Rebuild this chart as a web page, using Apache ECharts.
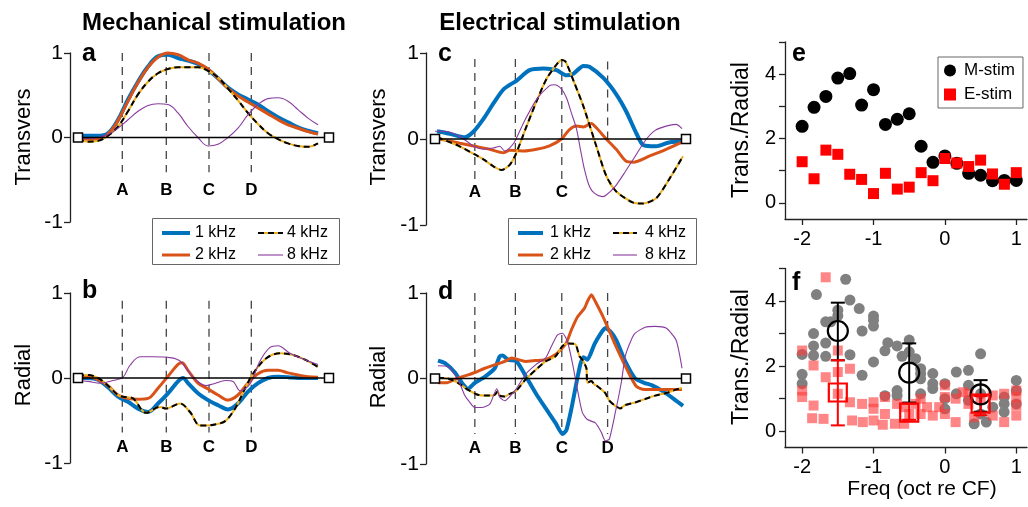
<!DOCTYPE html>
<html><head><meta charset="utf-8">
<script src="https://cdn.jsdelivr.net/npm/echarts@6/dist/echarts.min.js"></script>
<style>html,body{margin:0;padding:0;background:#fff}#c{width:1028px;height:507px}</style>
</head><body><div id="c"></div><script>
// ---------- data ----------
const legendNames = ['1 kHz', '2 kHz', '4 kHz', '8 kHz'];
// panel a: mechanical, transverse
const mechT_1k = [[0,0.02],[10,0.02],[20,0.02],[30,0.05],[40,0.21],[50,0.45],[60,0.66],[70,0.84],[80,0.96],[90,0.98],[100,0.94],[110,0.91],[120,0.87],[130,0.8],[140,0.7],[150,0.59],[160,0.51],[170,0.45],[180,0.39],[190,0.31],[200,0.24],[210,0.18],[220,0.12],[230,0.08],[240,0.05]];
const mechT_2k = [[0,-0.02],[10,-0.02],[20,-0.02],[30,0.04],[40,0.2],[50,0.43],[60,0.65],[70,0.83],[80,0.95],[90,1.0],[100,0.98],[110,0.92],[120,0.88],[130,0.81],[140,0.7],[150,0.58],[160,0.49],[170,0.42],[180,0.35],[190,0.28],[200,0.21],[210,0.15],[220,0.11],[230,0.07],[240,0.04]];
const mechT_4k = [[0,-0.02],[10,-0.05],[20,-0.04],[30,0.02],[40,0.13],[50,0.31],[60,0.51],[70,0.66],[80,0.76],[90,0.81],[100,0.83],[110,0.83],[120,0.83],[130,0.79],[140,0.71],[150,0.58],[160,0.44],[170,0.29],[180,0.16],[190,0.05],[200,-0.02],[210,-0.07],[220,-0.1],[230,-0.11],[240,-0.07]];
const mechT_8k = [[0,-0.01],[10,-0.01],[20,0],[30,0.035],[40,0.11],[50,0.21],[60,0.31],[70,0.38],[80,0.4],[90,0.39],[100,0.29],[110,0.13],[120,0],[130,-0.1],[140,-0.08],[150,0],[160,0.11],[170,0.27],[180,0.39],[190,0.46],[200,0.47],[210,0.43],[220,0.33],[230,0.23],[240,0.15]];
// panel b: mechanical, radial
const mechR_1k = [[0,0],[10,0],[20,-0.02],[30,-0.11],[40,-0.22],[50,-0.28],[60,-0.36],[70,-0.4],[80,-0.3],[90,-0.18],[100,-0.04],[105,0],[110,-0.06],[120,-0.18],[130,-0.26],[140,-0.32],[150,-0.37],[160,-0.3],[170,-0.16],[180,-0.06],[190,0],[200,0.015],[210,0.01],[220,0],[230,0],[240,0]];
const mechR_2k = [[0,0],[10,0.02],[20,-0.02],[30,-0.09],[40,-0.2],[50,-0.24],[60,-0.25],[70,-0.24],[80,-0.12],[90,0.02],[100,0.16],[104,0.18],[110,0.09],[120,-0.06],[130,-0.13],[140,-0.2],[150,-0.26],[160,-0.2],[170,-0.06],[180,0.05],[190,0.09],[200,0.09],[210,0.06],[220,0.035],[230,0.015],[240,0.01]];
const mechR_4k = [[0,0.02],[10,0.035],[20,0],[30,-0.09],[40,-0.2],[45,-0.22],[55,-0.24],[68,-0.41],[82,-0.34],[88,-0.36],[102,-0.3],[112,-0.4],[122,-0.56],[128,-0.56],[140,-0.54],[148,-0.5],[158,-0.34],[168,-0.1],[175,0.05],[188,0.23],[202,0.29],[215,0.27],[228,0.21],[240,0.13]];
const mechR_8k = [[0,-0.03],[10,-0.04],[22,-0.06],[35,-0.03],[45,0.01],[52,0.15],[62,0.25],[75,0.25],[92,0.24],[102,0.2],[115,0.01],[128,-0.09],[135,-0.07],[148,-0.03],[155,-0.04],[162,-0.15],[172,-0.07],[182,0.2],[192,0.36],[200,0.38],[212,0.29],[228,0.21],[240,0.16]];
// panel c: electrical, transverse
const elecT_1k = [[2,0.09],[15,0.06],[30,0.02],[39,0.09],[49,0.24],[59,0.42],[69,0.58],[82,0.68],[95,0.8],[109,0.82],[122,0.8],[132,0.74],[139,0.76],[149,0.85],[155,0.84],[169,0.71],[182,0.52],[192,0.32],[202,0.07],[209,-0.07],[222,-0.085],[235,-0.04],[249,-0.03]];
const elecT_2k = [[5,0],[25,-0.05],[40,-0.085],[55,-0.12],[69,-0.16],[75,-0.13],[89,-0.14],[102,-0.12],[115,-0.08],[127,0],[135,0.11],[142,0.15],[149,0.14],[157,0.18],[162,0.13],[172,0],[182,-0.12],[192,-0.26],[199,-0.27],[215,-0.2],[232,-0.12],[249,-0.03]];
const elecT_4k = [[2,0.02],[22,-0.07],[40,-0.18],[49,-0.24],[59,-0.32],[67,-0.36],[75,-0.3],[81,-0.18],[91,0.12],[102,0.44],[112,0.7],[121,0.85],[127,0.92],[131,0.9],[140,0.65],[149,0.38],[162,-0.085],[172,-0.43],[182,-0.61],[199,-0.74],[209,-0.75],[222,-0.69],[235,-0.47],[249,-0.2]];
const elecT_8k = [[0,0.09],[10,0.09],[25,0.03],[39,-0.085],[49,-0.12],[60,-0.1],[65,-0.085],[70,-0.14],[79,-0.05],[89,0.19],[102,0.46],[115,0.62],[120,0.63],[127,0.58],[132,0.48],[137,0.3],[142,0.12],[146,-0.12],[150,-0.35],[155,-0.55],[160,-0.63],[168,-0.67],[171,-0.66],[181,-0.55],[191,-0.38],[201,-0.2],[211,-0.02],[221,0.1],[232,0.15],[242,0.17],[248,0.12]];
// panel d: electrical, radial
const elecR_1k = [[3,0.21],[10,0.18],[20,0.07],[27,-0.05],[33,-0.12],[40,-0.05],[50,0.02],[60,0.12],[65,0.26],[68,0.27],[73,0.22],[82,0.2],[91,0.03],[101,-0.17],[110,-0.33],[121,-0.52],[128,-0.65],[132,-0.6],[137,-0.35],[142,-0.05],[146,0.17],[149,0.25],[153,0.22],[160,0.4],[166,0.52],[171,0.59],[176,0.55],[182,0.45],[191,0.2],[201,0],[210,-0.05],[218,-0.08],[229,-0.15],[240,-0.24],[249,-0.32]];
const elecR_2k = [[3,-0.05],[12,-0.05],[20,-0.01],[30,0.03],[40,0.07],[50,0.12],[60,0.16],[70,0.2],[77,0.24],[81,0.23],[91,0.2],[101,0.21],[111,0.22],[121,0.28],[128,0.36],[132,0.42],[137,0.57],[143,0.72],[150,0.82],[153,0.9],[157,0.98],[161,0.9],[170,0.69],[180,0.42],[193,0.1],[202,-0.09],[210,-0.13],[221,-0.13],[232,-0.13],[242,-0.13],[248,-0.13]];
const elecR_4k = [[3,0.01],[13,0],[23,-0.05],[33,-0.13],[43,-0.19],[50,-0.2],[57,-0.2],[60,-0.19],[63,-0.15],[65,-0.2],[70,-0.21],[75,-0.18],[81,-0.15],[91,-0.01],[101,0.1],[111,0.2],[121,0.26],[128,0.38],[133,0.41],[141,0.4],[145,0.26],[148,0.22],[152,0.12],[153,-0.05],[157,-0.03],[160,-0.07],[163,-0.09],[171,-0.17],[175,-0.26],[181,-0.32],[186,-0.35],[191,-0.31],[201,-0.28],[211,-0.24],[221,-0.2],[232,-0.17],[242,-0.13],[248,-0.11]];
const elecR_8k = [[3,0.15],[13,0.14],[23,-0.01],[30,-0.2],[35,-0.28],[40,-0.34],[47,-0.34],[55,-0.3],[62,-0.12],[65,-0.22],[70,-0.26],[81,-0.13],[91,0.05],[101,0.16],[111,0.24],[117,0.38],[123,0.51],[128,0.53],[133,0.43],[138,0.18],[143,-0.13],[148,-0.4],[153,-0.48],[161,-0.52],[167,-0.63],[171,-0.73],[175,-0.71],[181,-0.4],[187,-0.05],[191,0.26],[197,0.45],[201,0.53],[211,0.6],[221,0.61],[232,0.59],[242,0.45],[248,0.12]];
// guide lines (positions A-D) and their vertical spans
const guideX_ab = [44.3, 88.3, 131, 173.3];
const guideX_cd = [40, 80.7, 127.3, 173.3];
const guideSpan_a = [[1,-0.41],[1,-0.41],[1,-0.41],[1,-0.41]];
const guideSpan_b = [[0.91,-0.64],[0.91,-0.64],[0.91,-0.64],[0.91,-0.64]];
const guideSpan_c = [[0.93,-0.49],[0.93,-0.49],[0.93,-0.49],[0.9,-0.02]];
const guideSpan_d = [[1,-0.65],[1,-0.65],[1,-0.65],[1,-0.65]];
const guideLabels_abd = ['A', 'B', 'C', 'D'];
const guideLabels_c = ['A', 'B', 'C', ''];
const guideLabelY = [-0.63, -0.81, -0.62, -0.82];
// panel e
const freqOct = [-2,-1.833,-1.667,-1.5,-1.333,-1.167,-1,-0.833,-0.667,-0.5,-0.333,-0.167,0,0.167,0.333,0.5,0.667,0.833,1];
const ratioM = [2.38,2.97,3.31,3.88,4.02,3.04,3.52,2.44,2.6,2.77,1.76,1.26,1.46,1.23,0.92,0.86,0.69,0.7,0.7];
const ratioE = [1.28,0.75,1.64,1.51,0.89,0.73,0.29,0.92,0.43,0.49,0.94,0.69,1.38,1.24,1.13,1.33,0.9,0.58,0.94];
// panel f
const allM = [[-2,1.75],[-2,1.46],[-2,2.36],[-1.84,3.0],[-1.84,2.62],[-1.84,2.33],[-1.8,4.2],[-1.67,3.36],[-1.6,3.36],[-1.67,2.71],[-1.67,2.3],[-1.5,3.72],[-1.5,3.55],[-1.39,4.67],[-1.33,4.03],[-1.33,2.35],[-1.2,3.77],[-1.16,3.08],[-1.16,1.72],[-1,3.54],[-1,3.41],[-1,3.23],[-1,2.13],[-0.84,2.47],[-0.8,2.72],[-0.84,1.09],[-0.67,2.62],[-0.67,1.25],[-0.67,1.1],[-0.6,2.3],[-0.5,2.8],[-0.5,2.44],[-0.41,2.23],[-0.34,1.92],[-0.34,1.77],[-0.34,1.61],[-0.34,1.15],[-0.17,1.77],[-0.17,1.46],[-0.17,1.31],[0,1.46],[0,1.0],[0,0.69],[0.16,1.82],[0.16,1.15],[0.33,1.87],[0.33,1.41],[0.33,0.95],[0.41,0.23],[0.5,2.38],[0.5,1.15],[0.5,0.53],[0.58,0.28],[0.67,0.74],[0.83,1.05],[0.83,0.84],[0.83,0.59],[1,1.56],[1,1.25],[1,0.84]];
const allE = [[-2,2.48],[-2,1.25],[-2,1.05],[-1.84,2.02],[-1.84,0.79],[-1.86,0.4],[-1.67,1.66],[-1.67,4.73],[-1.7,0.38],[-1.5,2.48],[-1.5,1.82],[-1.5,1.15],[-1.33,1.92],[-1.33,0.89],[-1.3,0.33],[-1.16,0.84],[-1.15,0.28],[-1,0.89],[-1,0.69],[-1,0.33],[-0.84,1.05],[-0.84,0.53],[-0.87,0.2],[-0.7,0.23],[-0.67,0.84],[-0.57,0.74],[-0.57,0.23],[-0.5,0.53],[-0.41,0.84],[-0.34,1.0],[-0.34,0.53],[-0.25,0.74],[-0.17,0.48],[-0.08,0.74],[0,1.41],[0,1.05],[0,0.53],[0.15,1.0],[0.15,0.28],[0.25,1.2],[0.33,1.15],[0.33,0.84],[0.41,0.43],[0.5,1.0],[0.67,1.1],[0.67,0.48],[0.83,1.15],[0.83,0.28],[1,1.25],[1,1.05],[1,0.79],[1,0.48]];
const meanX = [-1.5, -0.5, 0.5];
const meanM = [3.08, 1.8, 1.13];
const lowM = [2.18, 0.88, 0.6];
const highM = [3.95, 2.7, 1.57];
const meanE = [1.19, 0.57, 0.85];
const lowE = [0.18, 0.35, 0.49];
const highE = [2.18, 0.85, 1.08];
const xTicksEF = [-2, -1, 0, 1];
const yTicksEF = [0, 1, 2, 3, 4, 5];
const yLabelsEF = [0, 2, 4];

// ---------- style ----------
const FONT = 'Liberation Sans, Arial, Helvetica, sans-serif';
const C1 = '#0072BD', C2 = '#D95319', C4 = '#EDB120', C8 = '#8A3B9E';
const dash4 = [6, 4];

function curve(data, gi, color, width, smooth, type) {
  return {type: 'line', xAxisIndex: gi, yAxisIndex: gi, data: data, symbol: 'none', showSymbol: false,
    smooth: smooth, clip: false, silent: true, z: 3,
    lineStyle: {color: color, width: width, type: type || 'solid'}};
}
function panelCurves(gi, d1, d2, d4, d8, sm) {
  return [
    curve(d1, gi, C1, 4, sm), curve(d2, gi, C2, 3, sm),
    curve(d4, gi, C4, 2, sm), curve(d4, gi, '#000', 2, sm, dash4),
    curve(d8, gi, C8, 1.1, sm)
  ];
}
function guides(gi, xs, spans, labels, labelY) {
  const out = xs.map((x, i) => ({type: 'line', xAxisIndex: gi, yAxisIndex: gi, symbol: 'none', silent: true, z: 1, clip: false,
    data: [[x, spans[i][0]], [x, spans[i][1]]], lineStyle: {color: '#444', width: 1.3, type: [8, 6]}}));
  out.push({type: 'custom', xAxisIndex: gi, yAxisIndex: gi, silent: true, z: 2, clip: false,
    data: xs.map(x => [x, labelY]),
    renderItem: function (params, api) {
      const p = api.coord([api.value(0), api.value(1)]);
      return {type: 'text', x: p[0], y: p[1], style: {text: labels[params.dataIndex], fontSize: 17, fontWeight: 'bold',
        fontFamily: FONT, fill: '#000', align: 'center', verticalAlign: 'middle'}};
    }});
  return out;
}
function zeroLine(gi, xmax) {
  return {type: 'line', xAxisIndex: gi, yAxisIndex: gi, data: [[0, 0], [xmax, 0]], symbol: 'rect', symbolSize: 9,
    showSymbol: true, clip: false, silent: true, z: 6,
    itemStyle: {color: '#fff', borderColor: '#000', borderWidth: 1.5, opacity: 1}, lineStyle: {color: '#000', width: 1.5}};
}
function errRender(params, api) {
  const x = api.value(0), lo = api.value(1), hi = api.value(2);
  const a = api.coord([x, lo]), b = api.coord([x, hi]);
  const w = 7, st = {stroke: api.visual('color'), lineWidth: 2};
  return {type: 'group', children: [
    {type: 'line', shape: {x1: a[0], y1: a[1], x2: b[0], y2: b[1]}, style: st},
    {type: 'line', shape: {x1: a[0] - w, y1: a[1], x2: a[0] + w, y2: a[1]}, style: st},
    {type: 'line', shape: {x1: b[0] - w, y1: b[1], x2: b[0] + w, y2: b[1]}, style: st}]};
}

const grids = [
  {left: 78, top: 53, width: 251, height: 169},
  {left: 78, top: 293, width: 251, height: 170},
  {left: 435, top: 53, width: 251, height: 172},
  {left: 435, top: 293, width: 251, height: 171},
  {left: 785, top: 42, width: 242, height: 177},
  {left: 785, top: 268.5, width: 242, height: 179}
];
const axLine = {show: true, onZero: false, lineStyle: {color: '#222', width: 1.3}};
const xAxes = [0, 1, 2, 3].map(i => ({gridIndex: i, type: 'value', min: 0, max: i < 2 ? 251 : 252, show: false}));
const yAxes = [0, 1, 2, 3].map(i => ({gridIndex: i, type: 'value', min: -1, max: 1, interval: 1, offset: i < 2 ? 8 : 9,
  axisLine: axLine, axisTick: {show: true, length: 6, lineStyle: {color: '#222', width: 1.3}},
  axisLabel: {fontSize: 21, color: '#000', margin: 7, fontFamily: FONT}, splitLine: {show: false}}));
[4, 5].forEach(i => {
  xAxes.push({gridIndex: i, type: 'value', min: -2.24, max: 1.15, axisLine: axLine,
    axisTick: {show: true, length: 6, customValues: xTicksEF, lineStyle: {color: '#222', width: 1.3}},
    axisLabel: {customValues: xTicksEF, fontSize: 20, color: '#000', margin: 10, fontFamily: FONT}, splitLine: {show: false}});
  yAxes.push({gridIndex: i, type: 'value', min: -0.5, max: 5, axisLine: axLine,
    axisTick: {show: true, length: 6, customValues: yTicksEF, lineStyle: {color: '#222', width: 1.3}},
    axisLabel: {customValues: yLabelsEF, fontSize: 20, color: '#000', margin: 9, fontFamily: FONT}, splitLine: {show: false}});
});

const series = [].concat(
  guides(0, guideX_ab, guideSpan_a, guideLabels_abd, guideLabelY[0]),
  guides(1, guideX_ab, guideSpan_b, guideLabels_abd, guideLabelY[1]),
  guides(2, guideX_cd, guideSpan_c, guideLabels_c, guideLabelY[2]),
  guides(3, guideX_cd, guideSpan_d, guideLabels_abd, guideLabelY[3]),
  panelCurves(0, mechT_1k, mechT_2k, mechT_4k, mechT_8k, 0.4),
  panelCurves(1, mechR_1k, mechR_2k, mechR_4k, mechR_8k, 0.35),
  panelCurves(2, elecT_1k, elecT_2k, elecT_4k, elecT_8k, 0.25),
  panelCurves(3, elecR_1k, elecR_2k, elecR_4k, elecR_8k, 0.2),
  [zeroLine(0, 251), zeroLine(1, 251), zeroLine(2, 252), zeroLine(3, 252)],
  [
    {name: 'M-stim', type: 'scatter', xAxisIndex: 4, yAxisIndex: 4, symbol: 'circle', symbolSize: 13,
      itemStyle: {color: '#000', opacity: 1}, data: freqOct.map((x, i) => [x, ratioM[i]]), z: 3},
    {name: 'E-stim', type: 'scatter', xAxisIndex: 4, yAxisIndex: 4, symbol: 'rect', symbolSize: 11,
      itemStyle: {color: '#FF0000', opacity: 1}, data: freqOct.map((x, i) => [x, ratioE[i]]), z: 4},
    {name: 'M all', type: 'scatter', xAxisIndex: 5, yAxisIndex: 5, symbol: 'circle', symbolSize: 11,
      itemStyle: {color: '#808080', opacity: 1}, data: allM, z: 2},
    {name: 'E all', type: 'scatter', xAxisIndex: 5, yAxisIndex: 5, symbol: 'rect', symbolSize: 10,
      itemStyle: {color: 'rgba(255,60,60,0.62)', opacity: 1}, data: allE, z: 3},
    {name: 'M sd', type: 'custom', xAxisIndex: 5, yAxisIndex: 5, renderItem: errRender, itemStyle: {color: '#000'},
      data: meanX.map((x, i) => [x, lowM[i], highM[i]]), z: 4},
    {name: 'E sd', type: 'custom', xAxisIndex: 5, yAxisIndex: 5, renderItem: errRender, itemStyle: {color: '#FF0000'},
      data: meanX.map((x, i) => [x, lowE[i], highE[i]]), z: 5},
    {name: 'M mean', type: 'scatter', xAxisIndex: 5, yAxisIndex: 5, symbol: 'circle', symbolSize: 20,
      itemStyle: {color: 'rgba(0,0,0,0)', borderColor: '#000', borderWidth: 2.2, opacity: 1}, data: meanX.map((x, i) => [x, meanM[i]]), z: 6},
    {name: 'E mean', type: 'scatter', xAxisIndex: 5, yAxisIndex: 5, symbol: 'rect', symbolSize: 18,
      itemStyle: {color: 'rgba(0,0,0,0)', borderColor: '#FF0000', borderWidth: 2.2, opacity: 1}, data: meanX.map((x, i) => [x, meanE[i]]), z: 7}
  ]
);

function txt(x, y, text, size, opts) {
  opts = opts || {};
  return {type: 'text', x: x, y: y, rotation: opts.rot || 0, z: 10,
    style: {text: text, fontSize: size, fontWeight: opts.bold ? 'bold' : 'normal', fontFamily: FONT, fill: '#000',
      align: opts.align || 'center', verticalAlign: 'middle'}};
}
function seg(x1, x2, y, color, width, dash) {
  return {type: 'line', z: 10, shape: {x1: x1, y1: y, x2: x2, y2: y}, style: {stroke: color, lineWidth: width, lineDash: dash || null}};
}
function lineLegend(bx, bw, c1, c2, l1, l2, t1, t2) {
  const r1 = 233, r2 = 255;
  return [
    {type: 'rect', z: 9, shape: {x: bx + 0.5, y: 218.5, width: bw, height: 46}, style: {fill: '#fff', stroke: '#666', lineWidth: 1}},
    seg(c1, c1 + l1, r1, C1, 4), txt(t1, r1, legendNames[0], 16, {align: 'left'}),
    seg(c1, c1 + l1, r2, C2, 3), txt(t1, r2, legendNames[1], 16, {align: 'left'}),
    seg(c2, c2 + l2, r1, C4, 2), seg(c2, c2 + l2, r1, '#000', 2, dash4), txt(t2, r1, legendNames[2], 16, {align: 'left'}),
    seg(c2, c2 + l2, r2, C8, 1.1), txt(t2, r2, legendNames[3], 16, {align: 'left'})
  ];
}
const R90 = Math.PI / 2;
const graphic = [].concat([
  txt(214, 23.7, 'Mechanical stimulation', 24, {bold: true}),
  txt(560, 23.7, 'Electrical stimulation', 24, {bold: true}),
  txt(82, 54.3, 'a', 25, {bold: true, align: 'left'}),
  txt(82, 291.3, 'b', 25, {bold: true, align: 'left'}),
  txt(438, 54.3, 'c', 25, {bold: true, align: 'left'}),
  txt(438, 292.3, 'd', 25, {bold: true, align: 'left'}),
  txt(792, 54.3, 'e', 25, {bold: true, align: 'left'}),
  txt(792, 283.3, 'f', 25, {bold: true, align: 'left'}),
  txt(24, 137, 'Transvers', 22, {rot: R90}),
  txt(24, 375, 'Radial', 22, {rot: R90}),
  txt(379, 137, 'Transvers', 22, {rot: R90}),
  txt(379, 377, 'Radial', 22, {rot: R90}),
  txt(742, 130, 'Trans./Radial', 23, {rot: R90}),
  txt(742, 357, 'Trans./Radial', 23, {rot: R90}),
  txt(922, 489, 'Freq (oct re CF)', 21)
], lineLegend(152, 187, 162, 258, 28, 25, 195, 287), lineLegend(508, 188, 518, 613, 25, 24, 550, 645));

const chart = echarts.init(document.getElementById('c'), null, {renderer: 'canvas'});
chart.setOption({
  animation: false,
  backgroundColor: '#fff',
  textStyle: {fontFamily: FONT},
  grid: grids,
  xAxis: xAxes,
  yAxis: yAxes,
  legend: {data: ['M-stim', 'E-stim'], orient: 'vertical', left: 938, top: 57, itemWidth: 12, itemHeight: 12, itemGap: 7,
    padding: [5, 8, 5, 6], borderColor: '#666', borderWidth: 1, backgroundColor: '#fff', selectedMode: false,
    textStyle: {fontSize: 17, color: '#000', fontFamily: FONT, padding: [0, 0, 0, 3]}},
  series: series,
  graphic: graphic
});
</script></body></html>
